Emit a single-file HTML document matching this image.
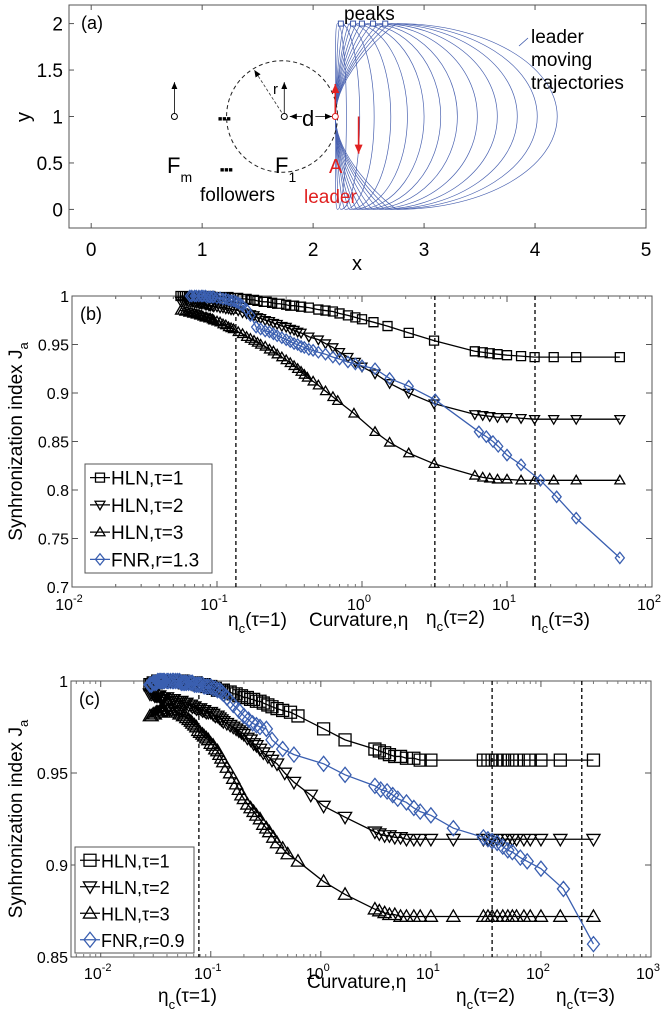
<!DOCTYPE html>
<html><head><meta charset="utf-8">
<style>
html,body{margin:0;padding:0;background:#fff;}
svg{display:block;font-family:"Liberation Sans",sans-serif;}
</style></head>
<body>
<svg id="fig" width="662" height="1020" viewBox="0 0 662 1020"></svg>
<script>
// ---------- Panel (a) data ----------
const aPeaksX = [2.25,2.36,2.44,2.54,2.65];
const aTrajPeak = [2.22,2.25,2.29,2.33,2.36,2.40,2.44,2.49,2.54,2.60,2.65,2.70,2.76];
const aTrajExtent = [2.3,2.42,2.55,2.7,2.85,3.0,3.15,3.3,3.48,3.66,3.84,4.02,4.2];
const aXTicks = [0,1,2,3,4,5];
const aYTicks = [0,0.5,1,1.5,2];
const aYTickLabels = ["0","0.5","1","1.5","2"];

// ---------- Panel (b) data ----------
const bTau1X = [0.056,0.058,0.06,0.062,0.064,0.066,0.068,0.07,0.072,0.074,0.076,0.078,0.08,0.083,0.085,0.088,0.09,0.093,0.095,0.1,0.105,0.11,0.115,0.12,0.125,0.13,0.14,0.15,0.16,0.17,0.18,0.19,0.21,0.22,0.24,0.26,0.27,0.3,0.32,0.34,0.38,0.43,0.5,0.56,0.63,0.7,0.8,0.9,1.0,1.2,1.5,2.1,3.14,6,6.8,7.6,8.6,10,12.5,15.5,21,30,60];
const bTau1Y = [1,1,1,1,1,1,1,1,1,1,1,1,1,1,1,1,1,0.999,0.999,0.999,0.999,0.999,0.999,0.999,0.998,0.998,0.998,0.997,0.997,0.996,0.996,0.995,0.994,0.994,0.993,0.992,0.992,0.991,0.99,0.99,0.989,0.988,0.986,0.985,0.984,0.982,0.98,0.978,0.976,0.973,0.969,0.962,0.954,0.943,0.942,0.941,0.94,0.939,0.938,0.937,0.937,0.937,0.937];
const bTau2X = [0.056,0.058,0.06,0.062,0.064,0.066,0.068,0.07,0.072,0.074,0.076,0.078,0.08,0.083,0.085,0.088,0.09,0.093,0.095,0.1,0.105,0.11,0.115,0.12,0.125,0.13,0.14,0.15,0.16,0.17,0.18,0.19,0.2,0.215,0.23,0.245,0.26,0.28,0.3,0.32,0.34,0.36,0.38,0.43,0.5,0.56,0.63,0.7,0.8,0.9,1.0,1.23,1.55,2.1,3.14,6,6.8,7.6,8.6,10,12.5,15.5,21,30,60];
const bTau2Y = [0.995,0.995,0.995,0.995,0.994,0.994,0.994,0.993,0.993,0.993,0.992,0.992,0.992,0.991,0.991,0.99,0.99,0.99,0.989,0.989,0.988,0.988,0.987,0.987,0.986,0.986,0.985,0.983,0.982,0.981,0.98,0.978,0.977,0.975,0.974,0.972,0.971,0.969,0.968,0.966,0.965,0.963,0.962,0.958,0.955,0.951,0.947,0.942,0.937,0.932,0.927,0.92,0.91,0.9,0.889,0.878,0.877,0.876,0.875,0.875,0.874,0.873,0.873,0.873,0.873];
const bTau3X = [0.056,0.058,0.06,0.062,0.064,0.066,0.068,0.07,0.072,0.074,0.076,0.078,0.08,0.083,0.085,0.088,0.09,0.093,0.095,0.1,0.105,0.11,0.115,0.12,0.125,0.13,0.14,0.15,0.16,0.17,0.18,0.19,0.2,0.215,0.23,0.245,0.26,0.28,0.3,0.32,0.34,0.36,0.38,0.4,0.42,0.46,0.5,0.56,0.63,0.68,0.88,1.23,1.55,2.1,3.14,6,6.8,7.6,8.6,10,12.5,15.5,21,30,60];
const bTau3Y = [0.985,0.985,0.984,0.984,0.983,0.983,0.982,0.982,0.981,0.981,0.98,0.98,0.979,0.978,0.978,0.977,0.977,0.976,0.975,0.974,0.973,0.971,0.97,0.968,0.967,0.966,0.963,0.961,0.958,0.956,0.954,0.952,0.95,0.948,0.945,0.943,0.94,0.937,0.934,0.931,0.928,0.925,0.922,0.919,0.916,0.912,0.908,0.902,0.896,0.892,0.879,0.86,0.849,0.838,0.827,0.815,0.813,0.812,0.811,0.811,0.81,0.81,0.81,0.81,0.81];
const bFnrX = [0.065,0.067,0.07,0.072,0.075,0.078,0.08,0.083,0.085,0.088,0.09,0.093,0.095,0.1,0.105,0.11,0.115,0.12,0.125,0.13,0.135,0.14,0.145,0.15,0.16,0.17,0.186,0.2,0.215,0.23,0.245,0.26,0.28,0.3,0.32,0.34,0.36,0.38,0.4,0.43,0.46,0.5,0.56,0.63,0.7,0.8,0.9,1.0,1.23,1.55,2.1,3.2,6.4,7.2,8.0,8.7,10,12.5,17,22,30,60];
const bFnrY = [1,1,1,1,1,1,1,1,0.999,0.999,0.999,0.999,0.999,0.998,0.998,0.997,0.997,0.996,0.995,0.995,0.994,0.993,0.992,0.99,0.986,0.98,0.968,0.966,0.964,0.963,0.961,0.959,0.957,0.955,0.953,0.951,0.95,0.948,0.947,0.945,0.944,0.942,0.94,0.937,0.935,0.932,0.93,0.928,0.925,0.915,0.907,0.893,0.86,0.855,0.85,0.845,0.836,0.826,0.81,0.793,0.771,0.73];
const bVlines = [0.135,3.18,15.6];

// ---------- Panel (c) data ----------
const cTau1X = [0.028,0.029,0.03,0.031,0.032,0.033,0.034,0.035,0.036,0.037,0.038,0.04,0.041,0.043,0.045,0.046,0.048,0.05,0.052,0.054,0.056,0.058,0.06,0.063,0.066,0.068,0.071,0.074,0.077,0.08,0.084,0.087,0.091,0.095,0.1,0.105,0.11,0.115,0.12,0.125,0.13,0.14,0.15,0.16,0.17,0.18,0.19,0.2,0.215,0.23,0.245,0.26,0.28,0.3,0.33,0.36,0.4,0.45,0.53,0.62,1.06,1.66,3.1,3.4,3.8,4.2,4.7,5.3,6,7,8,10,30,33,36,40,45,50,55,60,70,80,100,150,300];
const cTau1Y = [0.998,0.998,0.999,0.999,0.999,1,1,1,1,1,1,1,1,1,1,1,1,1,1,1,1,0.999,0.999,0.999,0.999,0.999,0.999,0.999,0.998,0.998,0.998,0.998,0.997,0.997,0.997,0.996,0.996,0.995,0.995,0.995,0.995,0.994,0.994,0.993,0.993,0.992,0.992,0.991,0.991,0.99,0.99,0.989,0.989,0.988,0.987,0.986,0.985,0.984,0.983,0.981,0.974,0.968,0.963,0.962,0.961,0.96,0.959,0.959,0.958,0.958,0.957,0.957,0.957,0.957,0.957,0.957,0.957,0.957,0.957,0.957,0.957,0.957,0.957,0.957,0.957];
const cTau2X = [0.028,0.029,0.03,0.031,0.032,0.033,0.034,0.035,0.036,0.037,0.038,0.04,0.041,0.043,0.045,0.046,0.048,0.05,0.052,0.054,0.056,0.058,0.06,0.063,0.066,0.068,0.071,0.074,0.077,0.08,0.084,0.087,0.091,0.095,0.1,0.105,0.11,0.115,0.12,0.125,0.13,0.14,0.15,0.16,0.17,0.18,0.19,0.2,0.215,0.23,0.245,0.26,0.28,0.3,0.33,0.36,0.4,0.47,0.57,0.81,1.06,1.66,3.1,3.4,3.8,4.2,4.7,5.3,6,7,8,10,16,30,33,36,40,45,50,55,60,70,80,100,150,300];
const cTau2Y = [0.993,0.993,0.993,0.992,0.992,0.992,0.992,0.991,0.991,0.991,0.991,0.991,0.99,0.99,0.99,0.99,0.989,0.989,0.989,0.989,0.988,0.988,0.988,0.987,0.987,0.986,0.986,0.985,0.985,0.985,0.984,0.984,0.983,0.983,0.983,0.982,0.981,0.981,0.98,0.979,0.978,0.977,0.976,0.975,0.974,0.973,0.972,0.971,0.969,0.968,0.966,0.965,0.963,0.961,0.959,0.957,0.955,0.95,0.945,0.938,0.932,0.926,0.918,0.917,0.916,0.916,0.915,0.915,0.914,0.914,0.914,0.914,0.914,0.914,0.914,0.914,0.914,0.914,0.914,0.914,0.914,0.914,0.914,0.914,0.914,0.914];
const cTau3X = [0.028,0.029,0.03,0.031,0.032,0.033,0.034,0.035,0.036,0.037,0.038,0.04,0.041,0.043,0.045,0.046,0.048,0.05,0.052,0.054,0.056,0.058,0.06,0.063,0.066,0.068,0.071,0.074,0.077,0.08,0.084,0.087,0.091,0.095,0.1,0.105,0.11,0.115,0.12,0.125,0.13,0.14,0.15,0.16,0.17,0.18,0.19,0.2,0.215,0.23,0.245,0.26,0.28,0.3,0.32,0.34,0.37,0.4,0.45,0.5,0.62,1.06,1.66,3.1,3.4,3.8,4.2,4.7,5.3,6,7,8,10,16,30,33,36,40,45,50,55,60,70,80,100,150,300];
const cTau3Y = [0.981,0.981,0.982,0.982,0.983,0.983,0.983,0.984,0.984,0.984,0.984,0.984,0.984,0.984,0.983,0.983,0.983,0.983,0.982,0.982,0.981,0.981,0.98,0.979,0.978,0.977,0.976,0.975,0.973,0.972,0.971,0.97,0.969,0.968,0.966,0.965,0.963,0.962,0.96,0.958,0.956,0.953,0.95,0.947,0.944,0.941,0.938,0.936,0.933,0.931,0.929,0.927,0.925,0.922,0.92,0.918,0.915,0.912,0.909,0.906,0.902,0.891,0.884,0.876,0.875,0.874,0.873,0.873,0.872,0.872,0.872,0.872,0.872,0.872,0.872,0.872,0.872,0.872,0.872,0.872,0.872,0.872,0.872,0.872,0.872,0.872,0.872];
const cFnrX = [0.028,0.029,0.03,0.031,0.032,0.033,0.034,0.035,0.036,0.037,0.038,0.04,0.041,0.043,0.045,0.046,0.048,0.05,0.052,0.054,0.056,0.058,0.06,0.063,0.066,0.068,0.071,0.074,0.077,0.08,0.084,0.087,0.091,0.095,0.1,0.105,0.11,0.115,0.12,0.125,0.13,0.14,0.15,0.16,0.18,0.2,0.22,0.24,0.26,0.28,0.32,0.36,0.45,0.57,1.06,1.66,3.1,3.5,4,4.5,5,6,7,8,10,16,30,33,36,40,45,50,55,65,75,100,160,300];
const cFnrY = [0.998,0.998,0.999,0.999,0.999,1,1,1,1,1,1,1,1,1,1,1,1,1,1,0.999,0.999,0.999,0.999,0.999,0.999,0.999,0.998,0.998,0.998,0.998,0.998,0.997,0.997,0.997,0.997,0.996,0.996,0.995,0.995,0.994,0.993,0.991,0.989,0.987,0.984,0.981,0.979,0.977,0.976,0.975,0.974,0.968,0.963,0.96,0.955,0.949,0.943,0.941,0.94,0.938,0.936,0.934,0.931,0.929,0.927,0.92,0.915,0.914,0.913,0.912,0.91,0.908,0.907,0.904,0.902,0.898,0.887,0.857];
const cVlines = [0.078,36,235];

// ---------- drawing helpers ----------
const NS = "http://www.w3.org/2000/svg";
const svg = document.getElementById('fig');
function mk(tag, attrs, parent){
  const e = document.createElementNS(NS, tag);
  for (const k in attrs) e.setAttribute(k, attrs[k]);
  (parent||svg).appendChild(e);
  return e;
}
function txt(x,y,s,opts,parent){
  opts = opts||{};
  const t = mk('text',{x:x,y:y,'font-size':opts.size||15,fill:opts.fill||'#000','text-anchor':opts.anchor||'start'},parent);
  if (opts.transform) t.setAttribute('transform',opts.transform);
  t.innerHTML = s;
  return t;
}
function linX(d0,d1,p0,p1){return v=>p0+(v-d0)/(d1-d0)*(p1-p0);}
function logX(l0,l1,p0,p1){return v=>p0+(Math.log10(v)-l0)/(l1-l0)*(p1-p0);}

// ================= Panel (a) =================
(function(){
  const L=69,R=646,T=5,B=228;
  const sx=linX(-0.2,5,L,R), sy=linX(-0.2,2.2,B,T);
  const g=mk('g',{});
  
  
  mk('rect',{x:L,y:T,width:R-L,height:B-T,fill:'#fff',stroke:'#555','stroke-width':1},g);
  aXTicks.forEach(v=>{
    const x=sx(v);
    mk('line',{x1:x,y1:B,x2:x,y2:B-5,stroke:'#555'},g);
    mk('line',{x1:x,y1:T,x2:x,y2:T+5,stroke:'#555'},g);
    const t=txt(x,256,String(v),{size:19,anchor:'middle'},g);
    
    
  });
  aYTicks.forEach((v,i)=>{
    const y=sy(v);
    mk('line',{x1:L,y1:y,x2:L+5,y2:y,stroke:'#555'},g);
    mk('line',{x1:R,y1:y,x2:R-5,y2:y,stroke:'#555'},g);
    const t=txt(63,y+7,aYTickLabels[i],{size:19,anchor:'end'},g);
    
    
  });
  aTrajPeak.forEach((p,i)=>{
    const xm=aTrajExtent[i];
    const k=p+0.55*(xm-p);
    const d=`M${sx(2.2)},${sy(1)} C${sx(2.21)},${sy(1.5)} ${sx(p-0.03)},${sy(2)} ${sx(p)},${sy(2)} C${sx(k)},${sy(2)} ${sx(xm)},${sy(1.55)} ${sx(xm)},${sy(1)} C${sx(xm)},${sy(0.45)} ${sx(k)},${sy(0)} ${sx(p)},${sy(0)} C${sx(p-0.03)},${sy(0)} ${sx(2.21)},${sy(0.5)} ${sx(2.2)},${sy(1)}`;
    const e=mk('path',{d:d,fill:'none',stroke:'#4a62b0','stroke-width':0.7},g);
    
    
  });
  aPeaksX.forEach(p=>{
    const e=mk('rect',{x:sx(p)-2.5,y:sy(2)-2.5,width:5,height:5,fill:'#fff',stroke:'#3a55a8','stroke-width':1},g);
    
    
  });
  const c=mk('ellipse',{cx:sx(1.72),cy:sy(1),rx:sx(2.22)-sx(1.72),ry:sy(0.4)-sy(1),fill:'none',stroke:'#222','stroke-dasharray':'4,3','stroke-width':1},g);
  
  
  mk('defs',{},g).innerHTML='<marker id="ab" markerWidth="8" markerHeight="8" refX="7" refY="4" orient="auto" markerUnits="userSpaceOnUse"><path d="M0,1 L7,4 L0,7 z" fill="#000"/></marker><marker id="ar" markerWidth="10" markerHeight="10" refX="9" refY="5" orient="auto" markerUnits="userSpaceOnUse"><path d="M0,1 L9,5 L0,9 z" fill="#e02020"/></marker>';
  function arrow(x1,y1,x2,y2,col,w,m,dash){
    const a=mk('line',{x1:sx(x1),y1:sy(y1),x2:sx(x2),y2:sy(y2),stroke:col,'stroke-width':w,'marker-end':'url(#'+m+')'},g);
    if(dash) a.setAttribute('stroke-dasharray',dash);
    return a;
  }
  arrow(0.75,1,0.75,1.37,'#000',0.8,'ab');
  arrow(1.74,1,1.74,1.37,'#000',0.8,'ab');
  arrow(1.74,1,1.47,1.5,'#333',0.8,'ab','3,2');
  arrow(1.9,1,1.79,1,'#000',0.8,'ab');
  arrow(2.02,1,2.17,1,'#000',0.8,'ab');
  arrow(2.2,1,2.2,1.35,'#e02020',1.6,'ar');
  arrow(2.41,1,2.41,0.6,'#e02020',1.6,'ar');
  [[0.75,1],[1.74,1]].forEach(p=>{
    const e=mk('circle',{cx:sx(p[0]),cy:sy(p[1]),r:3,fill:'#fff',stroke:'#000','stroke-width':1},g);
    
    
  });
  const ld=mk('circle',{cx:sx(2.2),cy:sy(1),r:3,fill:'#fff',stroke:'#e02020','stroke-width':1},g);
  
  
  txt(81,29,'(a)',{size:18},g);
  txt(344,20,'peaks',{size:19},g);
  txt(531,43,'leader',{size:19},g);
  txt(531,66,'moving',{size:19},g);
  txt(531,89,'trajectories',{size:19},g);
  mk('line',{x1:528,y1:38,x2:519,y2:46,stroke:'#3a55a8','stroke-width':0.8},g);
  txt(218,121,'■■■',{size:7},g);
  txt(220,172,'■■■',{size:7},g);
  txt(167,173,'F<tspan font-size="14" dy="9">m</tspan>',{size:22},g);
  txt(275,173,'F<tspan font-size="14" dy="9">1</tspan>',{size:22},g);
  txt(200,201,'followers',{size:19},g);
  txt(304,203,'leader',{size:19,fill:'#e02020'},g);
  txt(329,173,'A',{size:20,fill:'#e02020'},g);
  txt(273,94,'r',{size:15},g);
  txt(302,126,'d',{size:22},g);
  txt(357,270,'x',{size:20,anchor:'middle'},g);
  txt(30,117,'y',{size:20,anchor:'middle',transform:'rotate(-90 30 117)'},g);
})();

// ================= log panels =================
function markerPath(type,x,y,s){
  if(type==='sq') return `M${x-s},${y-s}h${2*s}v${2*s}h${-2*s}z`;
  if(type==='dn') return `M${x-s*1.1},${y-s*0.8}L${x+s*1.1},${y-s*0.8}L${x},${y+s*1.1}z`;
  if(type==='up') return `M${x-s*1.1},${y+s*0.8}L${x+s*1.1},${y+s*0.8}L${x},${y-s*1.1}z`;
  return `M${x},${y-s*1.25}L${x+s},${y}L${x},${y+s*1.25}L${x-s},${y}z`;
}
function logPanel(cfg){
  const {L,R,T,B,l0,l1,y0,y1}=cfg;
  const sx=logX(l0,l1,L,R), sy=linX(y0,y1,B,T);
  const g=mk('g',{});
  
  
  mk('rect',{x:L,y:T,width:R-L,height:B-T,fill:'#fff',stroke:'#555','stroke-width':1},g);
  for(let e=Math.ceil(l0);e<=Math.floor(l1);e++){
    const x=sx(Math.pow(10,e));
    mk('line',{x1:x,y1:B,x2:x,y2:B-6,stroke:'#555'},g);
    mk('line',{x1:x,y1:T,x2:x,y2:T+6,stroke:'#555'},g);
    const t=txt(x-3,cfg.tickY,'10<tspan font-size="11" dy="-8">'+e+'</tspan>',{size:16,anchor:'middle'},g);
    
    
    for(let m=2;m<=9;m++){
      const v=m*Math.pow(10,e);
      if(Math.log10(v)>l1) break;
      const xm=sx(v);
      mk('line',{x1:xm,y1:B,x2:xm,y2:B-3,stroke:'#777'},g);
      mk('line',{x1:xm,y1:T,x2:xm,y2:T+3,stroke:'#777'},g);
    }
  }
  for(let m=2;m<=9;m++){
    const v=m*Math.pow(10,Math.floor(l0));
    if(Math.log10(v)<l0) continue;
    const xm=sx(v);
    mk('line',{x1:xm,y1:B,x2:xm,y2:B-3,stroke:'#777'},g);
    mk('line',{x1:xm,y1:T,x2:xm,y2:T+3,stroke:'#777'},g);
  }
  cfg.yTicks.forEach((v,i)=>{
    const y=sy(v);
    mk('line',{x1:L,y1:y,x2:L+6,y2:y,stroke:'#555'},g);
    mk('line',{x1:R,y1:y,x2:R-6,y2:y,stroke:'#555'},g);
    const t=txt(L-3,y+6,cfg.yTickLabels[i],{size:16,anchor:'end'},g);
    
    
  });
  cfg.vlines.forEach(v=>{
    const e=mk('line',{x1:sx(v),y1:T,x2:sx(v),y2:B,stroke:'#000','stroke-dasharray':'4,3','stroke-width':1.3},g);
    
    
  });
  cfg.series.forEach(s=>{
    const pts=s.x.map((v,i)=>sx(v)+','+sy(s.y[i])).join(' ');
    const pl=mk('polyline',{points:pts,fill:'none',stroke:s.col,'stroke-width':1.3},g);
    
    
    let d='';
    s.x.forEach((v,i)=>{d+=markerPath(s.m,sx(v),sy(s.y[i]),cfg.ms);});
    const mp=mk('path',{d:d,fill:'none',stroke:s.col,'stroke-width':1.3},g);
    
    
  });
  const lg=cfg.legend;
  const lgG=mk('g',{},g);
  
  
  mk('rect',{x:lg.x,y:lg.y,width:lg.w,height:lg.h,fill:'#fff',stroke:'#555','stroke-width':1},lgG);
  cfg.series.forEach((s,i)=>{
    const yy=lg.y+lg.h/8*(2*i+1);
    const e=mk('g',{},lgG);
    
    
    mk('line',{x1:lg.x+5,y1:yy,x2:lg.x+25,y2:yy,stroke:s.col,'stroke-width':1.3},e);
    mk('path',{d:markerPath(s.m,lg.x+15,yy,cfg.ms),fill:'none',stroke:s.col,'stroke-width':1.3},e);
    txt(lg.x+26,yy+7,s.label,{size:lg.fs},e);
  });
  txt(L+8,T+24,cfg.tag,{size:18},g);
  const yl=txt(cfg.ylx,(T+B)/2,'Synhronization index J<tspan font-size="13" dy="6">a</tspan>',{size:19,anchor:'middle',transform:`rotate(-90 ${cfg.ylx} ${(T+B)/2})`},g);
  
  
  cfg.labels.forEach(l=>{
    const t=txt(l[0],l[1],l[2],{size:19},g);
    
    
  });
}
const eta=(t)=>'η<tspan font-size="13" dy="7">c</tspan><tspan dy="-7">(τ='+t+')</tspan>';
logPanel({name:'panel-b',tag:'(b)',L:72,R:652,T:296,B:587,l0:-2,l1:2,y0:0.7,y1:1,ms:4.5,tickY:610,ylx:22,
  yTicks:[0.7,0.75,0.8,0.85,0.9,0.95,1],yTickLabels:['0.7','0.75','0.8','0.85','0.9','0.95','1'],
  vlines:bVlines,
  series:[{x:bTau1X,y:bTau1Y,m:'sq',col:'#000',name:'hln-tau1',label:'HLN,τ=1'},
          {x:bTau2X,y:bTau2Y,m:'dn',col:'#000',name:'hln-tau2',label:'HLN,τ=2'},
          {x:bTau3X,y:bTau3Y,m:'up',col:'#000',name:'hln-tau3',label:'HLN,τ=3'},
          {x:bFnrX,y:bFnrY,m:'di',col:'#3a5fb0',name:'fnr',label:'FNR,r=1.3'}],
  legend:{x:85,y:464,w:127,h:109,fs:19},
  labels:[[228,626,eta(1),'eta-c-tau1-label'],[309,626,'Curvature,η','x-axis-title'],[426,624,eta(2),'eta-c-tau2-label'],[531,626,eta(3),'eta-c-tau3-label']]
});
logPanel({name:'panel-c',tag:'(c)',L:71,R:651,T:681,B:957,l0:-2.27,l1:3,y0:0.85,y1:1,ms:6,tickY:979,ylx:22,
  yTicks:[0.85,0.9,0.95,1],yTickLabels:['0.85','0.9','0.95','1'],
  vlines:cVlines,
  series:[{x:cTau1X,y:cTau1Y,m:'sq',col:'#000',name:'hln-tau1',label:'HLN,τ=1'},
          {x:cTau2X,y:cTau2Y,m:'dn',col:'#000',name:'hln-tau2',label:'HLN,τ=2'},
          {x:cTau3X,y:cTau3Y,m:'up',col:'#000',name:'hln-tau3',label:'HLN,τ=3'},
          {x:cFnrX,y:cFnrY,m:'di',col:'#3a5fb0',name:'fnr',label:'FNR,r=0.9'}],
  legend:{x:75,y:847,w:119,h:106,fs:18},
  labels:[[158,1002,eta(1),'eta-c-tau1-label'],[307,988,'Curvature,η','x-axis-title'],[456,1002,eta(2),'eta-c-tau2-label'],[556,1002,eta(3),'eta-c-tau3-label']]
});
</script>
</body></html>
